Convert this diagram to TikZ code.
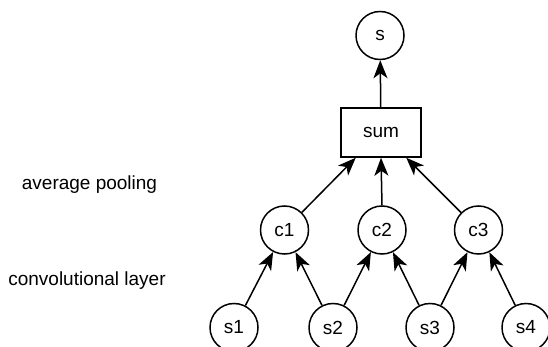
\documentclass[tikz,border=0pt]{standalone}
\usepackage{fontspec}
\setmainfont{Liberation Sans}
\usetikzlibrary{arrows.meta,calc}
\tikzset{
  nd/.style={circle,draw,line width=1.5pt,minimum size=48pt,inner sep=0pt,font=\fontsize{19}{22}\selectfont},
  boxnd/.style={rectangle,draw,line width=1.5pt,minimum width=80pt,minimum height=49pt,inner sep=0pt,font=\fontsize{19}{22}\selectfont},
  lbl/.style={font=\fontsize{19}{22}\selectfont,inner sep=0pt},
  arr/.style={line width=1.5pt,-{Stealth[length=18pt,width=14pt,inset=5pt]}}
}
\begin{document}
\begin{tikzpicture}[x=1pt,y=-1pt]
\useasboundingbox (0,0) rectangle (548,347);
\node[nd] (s) at (380,35.5) {s};
\node[boxnd] (sum) at (381,132.5) {sum};
\node[nd] (c1) at (284.5,230) {c1};
\node[nd] (c2) at (382,230) {c2};
\node[nd] (c3) at (478.5,230) {c3};
\node[nd] (s1) at (234,327.5) {s1};
\node[nd] (s2) at (333,327.5) {s2};
\node[nd] (s3) at (430,327.5) {s3};
\node[nd] (s4) at (526,327.5) {s4};
\node[lbl] (ap) at (89.5,185) {average pooling};
\node[lbl] (cl) at (87,281) {convolutional layer};
\coordinate (p1) at ($(sum.south west)!0.19!(sum.south east)$);
\coordinate (p2) at ($(sum.south west)!0.5!(sum.south east)$);
\coordinate (p3) at ($(sum.south west)!0.81!(sum.south east)$);
\draw[arr] (sum) -- (s);
\draw[arr] (c1) -- (p1);
\draw[arr] (c2.north) -- (p2);
\draw[arr] (c3) -- (p3);
\draw[arr] (s1) -- (c1);
\draw[arr] (s2) -- (c1);
\draw[arr] (s2) -- (c2);
\draw[arr] (s3) -- (c2);
\draw[arr] (s3) -- (c3);
\draw[arr] (s4) -- (c3);
\end{tikzpicture}
\end{document}
